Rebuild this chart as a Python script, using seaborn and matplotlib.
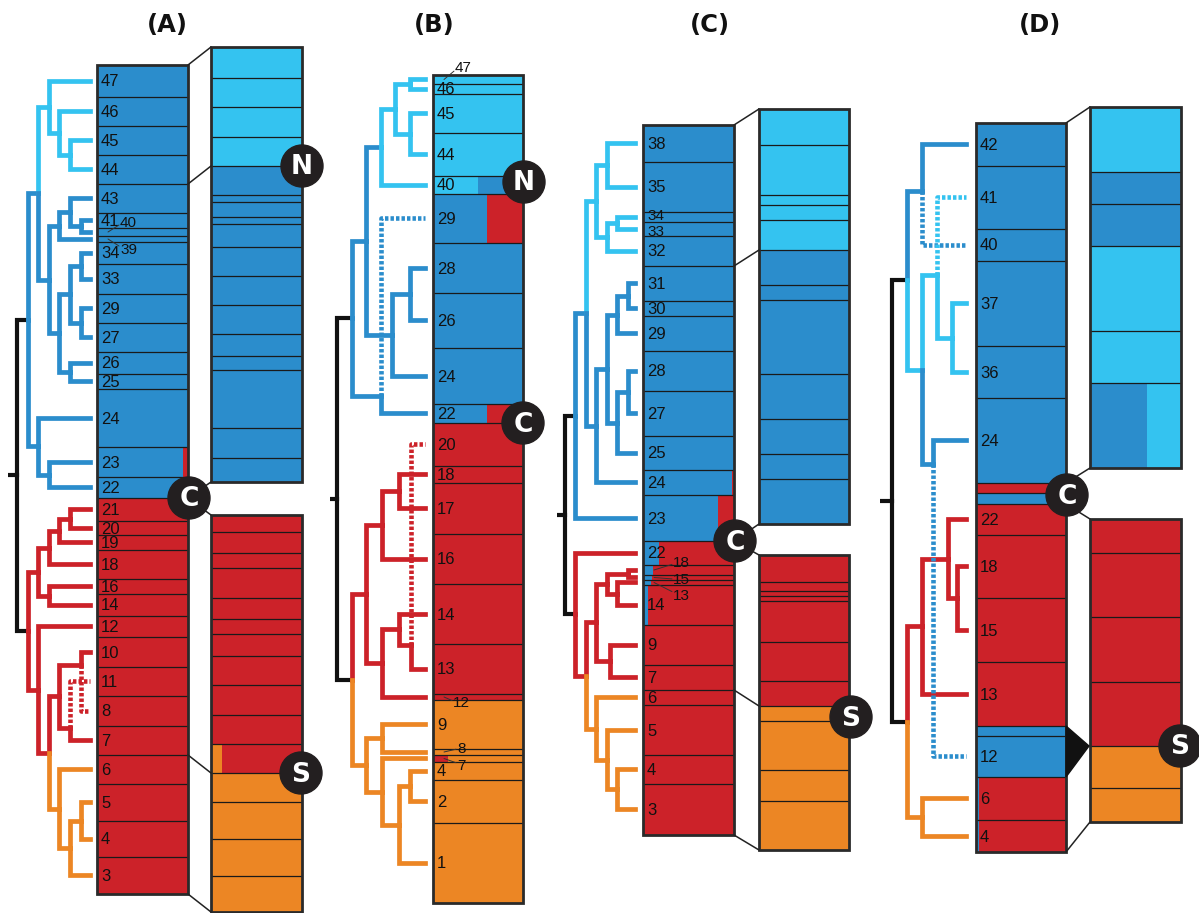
import numpy as np
import matplotlib
matplotlib.use("Agg")
import matplotlib.pyplot as plt
from matplotlib.patches import Rectangle, Circle, Polygon
import seaborn as sns

sns.set_theme(style="white")
plt.rcParams["font.family"] = ["Liberation Sans", "DejaVu Sans"]

PALETTE = {"B": "#2B8DCC", "L": "#34C3F0", "R": "#CC2229", "O": "#EC8624"}

# ---------------- Panel A ----------------
a_labels = ["47", "46", "45", "44", "43", "41", "40", "39", "34", "33", "29", "27", "26", "25", "24", "23", "22",
            "21", "20", "19", "18", "16", "14", "12", "10", "11", "8", "7", "6", "5", "4", "3"]
a_heights = [32, 29, 29, 29, 29, 15, 8, 6, 22, 30, 29, 29, 22, 15, 58, 30, 21,
             23, 14, 15, 29, 15, 22, 21, 30, 29, 30, 29, 29, 37, 36, 37]
a_colors = ["B"] * 15 + ["B95R", "B"] + ["R"] * 15
a_leaf_colors = ["L"] * 4 + ["B"] * 13 + ["R"] * 11 + ["O"] * 4
a_zoom_top_heights = [31, 29, 30, 29, 29, 7, 15, 7, 23, 29, 29, 29, 22, 14, 58, 30, 24]
a_zoom_top_colors = ["L"] * 4 + ["B"] * 13
a_zoom_bot_heights = [17, 21, 15, 30, 21, 15, 22, 29, 30, 29, 29, 29, 37, 37, 36]
a_zoom_bot_colors = ["R"] * 10 + ["O12R"] + ["O"] * 4
a_tree = (0, [
    (1, [
        (2, [
            (3, ["47", (4, ["46", (5, ["45", "44"])])]),
            (3, [
                (4, [(5, ["43", (6, ["41", "40"])]), "39"]),
                (4, [(5, [(6, ["34", "33"]), (6, ["29", "27"])]), (5, ["26", "25"])]),
            ]),
        ], "B"),
        (2, ["24", (3, ["23", "22"])]),
    ]),
    (1, [
        (2, [(3, [(4, [(5, ["21", "20"]), "19"]), "18"]), (3, ["16", "14"])]),
        (2, ["12",
             (3, [
                 (4, [(6, ["10", ("~", "8", 0.28)]), (5, [("~", "11", 0.28), "7"])]),
                 (4, ["6", (5, [(6, ["5", "4"]), "3"])]),
             ], "R")]),
    ]),
])

# ---------------- Panel B ----------------
b_labels = ["47", "46", "45", "44", "40", "29", "28", "26", "24", "22", "20", "18", "17", "16", "14", "13", "12",
            "9", "8", "7", "4", "2", "1"]
b_heights = [9, 10, 39, 43, 18, 49, 50, 55, 56, 19, 43, 17, 51, 50, 60, 50, 6, 49, 6, 7, 18, 43, 80]
b_colors = ["L", "L", "L", "L", "L50B", "B60R", "B", "B", "B", "B60R", "R", "R", "R", "R", "R", "R", "R",
            "O", "O", "R17O", "O", "O", "O"]
b_leaf_colors = ["L"] * 5 + ["B"] * 5 + ["R"] * 7 + ["O"] * 6
b_tree = (0, [
    (1, [
        (2, [
            (3, [(4, [(5, ["47", "46"]), (5, ["45", "44"])]), "40"], "B"),
            (3.75, [(5, ["28", "26"]), "24"]),
        ], "B"),
        (3, [("~", "29", 0.1), "22"]),
    ]),
    (1, [
        (2, [
            (3.1, [(4.25, ["18", "17"]), "16"]),
            (3.1, [(4.25, ["14", (5.1, [("~", "20", 0.12), "13"])]), "12"]),
        ]),
        (2, [
            (3.1, ["9", "8"]),
            (3.1, ["7", (4.25, [(5, ["4", "2"]), "1"])]),
        ]),
    ], "R"),
])

# ---------------- Panel C ----------------
c_labels = ["38", "35", "34", "33", "32", "31", "30", "29", "28", "27", "25", "24", "23",
            "22", "18", "15", "13", "14", "9", "7", "6", "5", "4", "3"]
c_heights = [37, 50, 10, 14, 30, 35, 15, 35, 40, 45, 34, 25, 46, 24, 10, 5, 5, 40, 40, 25, 15, 50, 29, 51]
c_colors = ["B"] * 11 + ["B98R", "B82R", "B18R", "B11R", "B10R", "B09R", "B06R", "B02R"] + ["R"] * 5
c_leaf_colors = ["L"] * 5 + ["B"] * 8 + ["R"] * 7 + ["O"] * 4
c_zoom_top_heights = [36, 50, 10, 15, 30, 35, 15, 74, 45, 35, 25, 45]
c_zoom_top_colors = ["L"] * 5 + ["B"] * 7
c_zoom_bot_heights = [27, 9, 5, 5, 41, 39, 25, 15, 49, 31, 49]
c_zoom_bot_colors = ["R"] * 7 + ["O"] * 4
c_tree = (0, [
    (1, [
        (2, [
            (3, [(4, ["38", "35"]), (4, [(5, ["34", "33"]), "32"])]),
            (3, [(4, [(5, [(6, ["31", "30"]), "29"]), (5, [(6, ["28", "27"]), "25"])]), "24"]),
        ], "B"),
        "23",
    ]),
    (1, [
        "22",
        (2, [
            (3, [(4, [(6, ["18", "15"]), (5, ["13", "14"])]), (4.3, ["9", "7"])]),
            (3, ["6", (4, ["5", (5, ["4", "3"])])]),
        ], "R"),
    ]),
])

# ---------------- Panel D ----------------
d_labels = ["42", "41", "40", "37", "36", "24", "", "", "22", "18", "15", "13", "", "12", "6", "4"]
d_heights = [43, 63, 32, 85, 52, 85, 10, 11, 31, 63, 64, 64, 10, 41, 43, 32]
d_colors = ["B", "B", "B", "B", "B", "B", "R", "B", "R", "R", "R", "R", "B", "B", "B03R", "B03R"]
d_leaf_colors = ["B", "L", "B", "L", "L", "B", "", "", "R", "R", "R", "R", "", "B", "O", "O"]
d_zoom_top_heights = [65, 32, 42, 85, 52, 85]
d_zoom_top_colors = ["L", "B", "B", "L", "L", "B63L"]
d_zoom_bot_heights = [34, 64, 65, 64, 42, 34]
d_zoom_bot_colors = ["R", "R", "R", "R", "O", "O"]
d_tree = (0, [
    (1, [
        (2, ["42", ("~", "40", 0.85)]),
        (2, [
            (3, [("~", "41", 0.8), (4, ["37", "36"])], "L"),
            (2.73, ["24", ("~", "12", 0.08)]),
        ], "L"),
    ], "B"),
    (1, [
        (2, [(3.7, ["22", (4.3, ["18", "15"])]), "13"]),
        (2, ["6", "4"]),
    ], "R"),
])

panel_titles = ["(A)", "(B)", "(C)", "(D)"]

# ================= drawing helpers =================
LINE_COL = "#1a1a1a"
BORDER_COL = "#2a2a2a"
LABEL_SIZE = 12


def parse_col(s):
    if len(s) == 1:
        return [(1.0, PALETTE[s])]
    f = int(s[1:-1]) / 100.0
    return [(f, PALETTE[s[0]]), (1 - f, PALETTE[s[-1]])]


def draw_column(ax, x0, x1, top, heights, colors, labels=None, leaders=None, nudge=None):
    bounds = top + np.concatenate([[0], np.cumsum(heights)])
    w = x1 - x0
    for i, (h, c) in enumerate(zip(heights, colors)):
        left = x0
        for f, col in parse_col(c):
            ax.bar(left, h, width=w * f, bottom=bounds[i], align="edge",
                   color=col, linewidth=0, zorder=2)
            left += w * f
    ax.hlines(bounds[1:-1], x0, x1, colors=LINE_COL, linewidth=0.9, zorder=3)
    ax.add_patch(Rectangle((x0, bounds[0]), w, bounds[-1] - bounds[0], fill=False,
                           ec=BORDER_COL, lw=2.0, zorder=4))
    if labels is not None:
        leaders = leaders or {}
        nudge = nudge or {}
        centres = (bounds[:-1] + bounds[1:]) / 2
        for lab, cy in zip(labels, centres):
            if not lab:
                continue
            if lab in leaders:
                dx, dy = leaders[lab]
                ax.plot([x0 + 11, x0 + dx - 1], [cy, cy + dy * 0.7], color="#333333",
                        lw=0.7, zorder=5)
                ax.text(x0 + dx, cy + dy + 1, lab, ha="left", va="center",
                        fontsize=LABEL_SIZE - 1, color="#111111", zorder=6)
            else:
                ax.text(x0 + 4, cy + 1 + nudge.get(lab, 0), lab, ha="left", va="center",
                        fontsize=LABEL_SIZE - (1 if lab in nudge else 0),
                        color="#111111", zorder=6)
    return bounds


def is_dot(n):
    return isinstance(n, tuple) and n[0] == "~"


def node_y(n, ly):
    if isinstance(n, str):
        return ly[n]
    if is_dot(n):
        return ly[n[1]]
    ws = [k[2] if is_dot(k) else 1.0 for k in n[1]]
    ys = [node_y(k, ly) for k in n[1]]
    return float(np.dot(ws, ys) / sum(ws))


def edge_col(n, lc):
    if isinstance(n, str):
        return lc[n]
    if is_dot(n):
        return lc[n[1]]
    if len(n) > 2 and n[2]:
        return n[2]
    return edge_col(n[1][0], lc)


def draw_tree(ax, n, ly, lc, xr, step, xleaf, root=True):
    xn = xr + n[0] * step
    yn = node_y(n, ly)
    for k in n[1]:
        yk = node_y(k, ly)
        leafish = isinstance(k, str) or is_dot(k)
        xk = xleaf if leafish else xr + k[0] * step
        col = "#111111" if root else PALETTE[edge_col(k, lc)]
        if is_dot(k):
            ax.plot([xn, xn, xk], [yn, yk, yk], color=col, lw=3.3,
                    ls=(0, (0.75, 0.45)), dash_capstyle="butt", zorder=1.5)
        else:
            ax.plot([xn, xn, xk], [yn, yk, yk], color=col, lw=3.0 if root else 3.4,
                    solid_capstyle="projecting", solid_joinstyle="miter", zorder=1)
        if not leafish:
            draw_tree(ax, k, ly, lc, xr, step, xleaf, root=False)
    return yn


def connector(ax, x0, y0, x1, y1):
    ax.plot([x0, x1], [y0, y1], color="#222222", lw=1.1, zorder=4)


def badge(ax, x, y, letter):
    ax.add_patch(Circle((x, y), 21, color="#231F20", zorder=10))
    ax.text(x, y + 1.5, letter, color="white", fontsize=19, fontweight="bold",
            ha="center", va="center", family="DejaVu Sans", zorder=11)


# ================= figure =================
fig = plt.figure(figsize=(11.99, 9.13), dpi=100)
ax = fig.add_axes([0, 0, 1, 1])

panels = [
    dict(labels=a_labels, heights=a_heights, colors=a_colors, leafc=a_leaf_colors, tree=a_tree,
         mx=(97, 188), top=65, root_x=17, step=10.6, leaf_x=90, stub=9,
         leaders={"40": (23, -10), "39": (23, 10)}, nudge={}),
    dict(labels=b_labels, heights=b_heights, colors=b_colors, leafc=b_leaf_colors, tree=b_tree,
         mx=(433, 523), top=75, root_x=337, step=14.6, leaf_x=425, stub=7,
         leaders={"47": (22, -12), "12": (20, 5), "8": (24, -4), "7": (24, 6)}, nudge={}),
    dict(labels=c_labels, heights=c_heights, colors=c_colors, leafc=c_leaf_colors, tree=c_tree,
         mx=(643, 734), top=125, root_x=564.5, step=10.5, leaf_x=635, stub=8,
         leaders={"18": (30, -8), "15": (30, 2), "13": (30, 13)}, nudge={"34": -2, "33": 2}),
    dict(labels=d_labels, heights=d_heights, colors=d_colors, leafc=d_leaf_colors, tree=d_tree,
         mx=(976, 1066), top=123, root_x=892, step=15, leaf_x=966, stub=12,
         leaders={}, nudge={}),
]

title_x = [167, 434, 710, 1040]
mains = []
for p, tx, title in zip(panels, title_x, panel_titles):
    b = draw_column(ax, p["mx"][0], p["mx"][1], p["top"], p["heights"], p["colors"],
                    labels=p["labels"], leaders=p["leaders"], nudge=p["nudge"])
    mains.append(b)
    centres = (b[:-1] + b[1:]) / 2
    ly = {lab: cy for lab, cy in zip(p["labels"], centres) if lab}
    lc = {lab: c for lab, c in zip(p["labels"], p["leafc"]) if lab}
    yroot = draw_tree(ax, p["tree"], ly, lc, p["root_x"], p["step"], p["leaf_x"])
    ax.plot([p["root_x"] - p["stub"], p["root_x"]], [yroot, yroot], color="#111111",
            lw=3.0, solid_capstyle="butt", zorder=1)
    ax.text(tx, 25, title, ha="center", va="center", fontsize=17.5, fontweight="bold",
            family="DejaVu Sans", color="#111111")

# ---- zoom columns ----
mA, mB, mC, mD = mains
# Panel A
zAt = draw_column(ax, 211, 302, 47, a_zoom_top_heights, a_zoom_top_colors)
zAb = draw_column(ax, 211, 302, 515, a_zoom_bot_heights, a_zoom_bot_colors)
for i, j in [(0, 0), (4, 4), (17, 17)]:
    connector(ax, 188, mA[i], 211, zAt[j])
for i, j in [(17, 0), (28, 11), (32, 15)]:
    connector(ax, 188, mA[i], 211, zAb[j])
badge(ax, 302, zAt[4], "N")
badge(ax, 189, mA[17], "C")
badge(ax, 301, zAb[11], "S")

# Panel B
badge(ax, 524, (mB[4] + mB[5]) / 2 - 3, "N")
badge(ax, 523, mB[10], "C")

# Panel C
zCt = draw_column(ax, 759, 849, 109, c_zoom_top_heights, c_zoom_top_colors)
zCb = draw_column(ax, 759, 849, 555, c_zoom_bot_heights, c_zoom_bot_colors)
for i, j in [(0, 0), (5, 5), (13, 12)]:
    connector(ax, 734, mC[i], 759, zCt[j])
for i, j in [(13, 0), (20, 7), (24, 11)]:
    connector(ax, 734, mC[i], 759, zCb[j])
badge(ax, 735, mC[13], "C")
badge(ax, 851, zCb[7] + 11, "S")

# Panel D
zDt = draw_column(ax, 1090, 1181, 107, d_zoom_top_heights, d_zoom_top_colors)
zDb = draw_column(ax, 1090, 1181, 519, d_zoom_bot_heights, d_zoom_bot_colors)
connector(ax, 1066, mD[0], 1090, zDt[0])
connector(ax, 1066, mD[6], 1090, zDt[6])
connector(ax, 1066, mD[8], 1090, zDb[0])
connector(ax, 1066, mD[16], 1090, zDb[6])
ax.add_patch(Polygon([(1066, mD[12]), (1066, mD[14]), (1089, zDb[4])], closed=True,
                     color="#111111", zorder=4))
badge(ax, 1067, mD[7] + 2, "C")
badge(ax, 1180, zDb[4], "S")

ax.set_xlim(0, 1199)
ax.set_ylim(913, 0)
ax.axis("off")
fig.savefig("out.png", dpi=100, facecolor="white")
